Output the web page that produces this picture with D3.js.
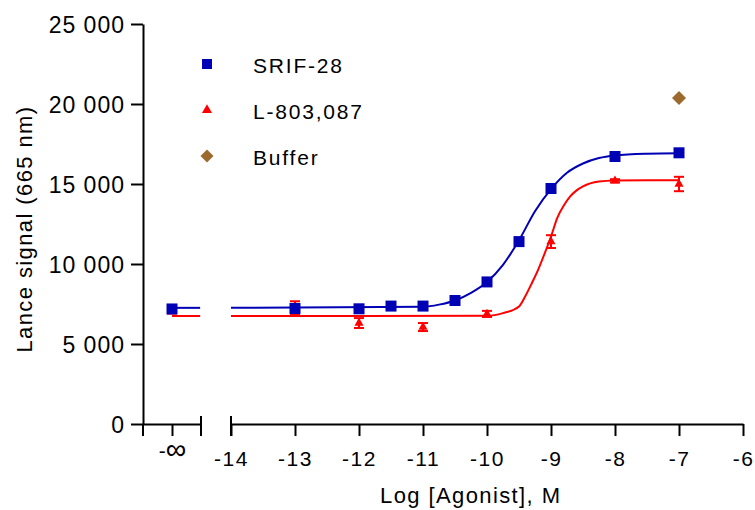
<!DOCTYPE html>
<html>
<head>
<meta charset="utf-8">
<script src="https://cdn.jsdelivr.net/npm/d3@7"></script>
<style>
	body { margin: 0; background: #fff; }
	svg text { font-family: "Liberation Sans", Arial, sans-serif; fill: #000; }
</style>
</head>
<body>
<svg id="chart" width="755" height="510"></svg>
<script>
// measured points
const srifDose = ["-∞", -13, -12, -11.5, -11, -10.5, -10, -9.5, -9, -8, -7];
const srifSignal = [7190, 7220, 7200, 7370, 7370, 7720, 8880, 11400, 14720, 16720, 16950];

const lDose = ["-∞", -13, -12, -11, -10, -9, -8, -7];
const lSignal = [7100, 7250, 6310, 6060, 6880, 11400, 15200, 15000];
const lSem = [200, 420, 310, 250, 190, 400, 100, 450];

const bufferDose = [-7];
const bufferSignal = [20380];

// fitted curves
const srifFitX = [-14, -11, -10.75, -10.5, -10.25, -10, -9.75, -9.5, -9.25, -9, -8.75, -8.5, -8.25, -8, -7.5, -7];
const srifFitY = [7260, 7330, 7460, 7720, 8200, 8880, 9950, 11480, 13300, 14680, 15700, 16280, 16620, 16780, 16890, 16920];
const lFitX = [-14, -10, -9.75, -9.5, -9.4, -9.3, -9.2, -9.1, -9.0, -8.9, -8.8, -8.7, -8.6, -8.5, -8.25, -8, -7.5, -7];
const lFitY = [6750, 6760, 6930, 7350, 8000, 8800, 9650, 10650, 11720, 12900, 13650, 14220, 14600, 14850, 15150, 15220, 15240, 15240];
// plateau carried across the axis break
const srifBreakY = [7260, 7260];
const lBreakY = [6750, 6750];

const yTicks = [0, 5000, 10000, 15000, 20000, 25000];
const xTicks = [-14, -13, -12, -11, -10, -9, -8, -7, -6];
const legendNames = ["SRIF-28", "L-803,087", "Buffer"];

const blue = "#0000b4", red = "#ff0000", brown = "#9c6a2c";

var svg = d3.select("#chart");

var y = d3.scaleLinear().domain([0, 25000]).range([424, 24]);
var xBreak = d3.scaleLinear().domain([-1, 1]).range([143, 201]);   // the "-∞" stub
var x = d3.scaleLinear().domain([-14, -6]).range([231, 743]);

function xPos(d) { return d === "-∞" ? xBreak(0) : x(d); }

// y axis
var gy = svg.append("g")
	.attr("transform", "translate(" + 143 + ",0)")
	.call(d3.axisLeft(y).tickValues(yTicks).tickSize(12).tickSizeOuter(0)
		.tickFormat(function(d){ return d3.format(",")(d).replace(",", " "); }));
gy.selectAll("text").attr("font-size", "23px").attr("letter-spacing", "1px").attr("x", -18).attr("dy", "0.36em");
gy.append("line").attr("x1", 0).attr("x2", 0).attr("y1", y(0)).attr("y2", y(0) + 12).attr("stroke", "#000");

// x axis: break stub
var gxb = svg.append("g")
	.attr("transform", "translate(0," + y(0) + ")")
	.call(d3.axisBottom(xBreak).tickValues([0]).tickSize(12).tickSizeOuter(0).tickFormat(""));
// x axis: main
var gx = svg.append("g")
	.attr("transform", "translate(0," + y(0) + ")")
	.call(d3.axisBottom(x).tickValues(xTicks).tickSize(12).tickSizeOuter(0).tickFormat(function(d){ return "-" + Math.abs(d); }));
gx.selectAll("text").attr("font-size", "21px").attr("letter-spacing", "1.5px").attr("y", 27);
// "-∞" label, infinity drawn large like the original
var infLabel = gxb.select(".tick").append("text")
	.attr("y", 27).attr("dy", "0.71em").attr("text-anchor", "middle").attr("fill", "#000");
infLabel.append("tspan").attr("font-size", "21px").text("-");
infLabel.append("tspan").attr("font-size", "29px").attr("dy", "1").text("∞");
// break caps
[xBreak(1), x(-14)].forEach(function(cx){
	gx.append("line").attr("x1", cx).attr("x2", cx).attr("y1", -8).attr("y2", 12).attr("stroke", "#000");
});
svg.selectAll(".domain, .tick line").attr("stroke", "#000").attr("stroke-width", 2);
svg.selectAll("g line").attr("stroke-width", 2);

// axis titles
svg.append("text")
	.attr("x", 380).attr("y", 503)
	.attr("font-size", "22px").attr("letter-spacing", "1.4px")
	.text("Log [Agonist], M");
svg.append("text")
	.attr("transform", "translate(32,229) rotate(-90)")
	.attr("text-anchor", "middle")
	.attr("font-size", "22px").attr("letter-spacing", "1.4px")
	.text("Lance signal (665 nm)");

// fitted curves
var line = d3.line().curve(d3.curveMonotoneX);
function drawFit(fx, fy, breakY, color) {
	svg.append("path")
		.attr("d", line(fx.map(function(d, i){ return [x(d), y(fy[i])]; })))
		.attr("fill", "none").attr("stroke", color).attr("stroke-width", 2);
	svg.append("path")
		.attr("d", line([[xBreak(0), y(breakY[0])], [xBreak(0.97), y(breakY[1])]]))
		.attr("fill", "none").attr("stroke", color).attr("stroke-width", 2);
}
drawFit(srifFitX, srifFitY, srifBreakY, blue);
drawFit(lFitX, lFitY, lBreakY, red);

var square = d3.symbol().type(d3.symbolSquare).size(121);
var triangle = d3.symbol().type(d3.symbolTriangle).size(36);
var diamond = d3.symbol().type(d3.symbolSquare).size(98);

// L-803,087 with error bars
var lData = lDose.map(function(d, i){ return {dose: d, v: lSignal[i], sem: lSem[i]}; });
var eb = svg.append("g").attr("stroke", red).attr("stroke-width", 2);
lData.forEach(function(d){
	var cx = xPos(d.dose);
	eb.append("line").attr("x1", cx).attr("x2", cx).attr("y1", y(d.v - d.sem)).attr("y2", y(d.v + d.sem));
	eb.append("line").attr("x1", cx - 5).attr("x2", cx + 5).attr("y1", y(d.v - d.sem)).attr("y2", y(d.v - d.sem));
	eb.append("line").attr("x1", cx - 5).attr("x2", cx + 5).attr("y1", y(d.v + d.sem)).attr("y2", y(d.v + d.sem));
});
svg.selectAll(".tri")
	.data(lData)
	.enter().append("path")
	.attr("class", "tri")
	.attr("d", triangle)
	.attr("fill", red)
	.attr("transform", function(d){ return "translate(" + xPos(d.dose) + "," + y(d.v) + ")"; });

// SRIF-28
svg.selectAll(".sq")
	.data(srifDose.map(function(d, i){ return {dose: d, v: srifSignal[i]}; }))
	.enter().append("path")
	.attr("class", "sq")
	.attr("d", square)
	.attr("fill", blue)
	.attr("transform", function(d){ return "translate(" + xPos(d.dose) + "," + y(d.v) + ")"; });

// Buffer
svg.selectAll(".dm")
	.data(bufferDose.map(function(d, i){ return {dose: d, v: bufferSignal[i]}; }))
	.enter().append("path")
	.attr("class", "dm")
	.attr("d", diamond)
	.attr("fill", brown)
	.attr("transform", function(d){ return "translate(" + xPos(d.dose) + "," + y(d.v) + ") rotate(45)"; });

// legend
var legendSym = [
	{shape: d3.symbol().type(d3.symbolSquare).size(100), color: blue, rot: 0},
	{shape: d3.symbol().type(d3.symbolTriangle).size(44), color: red, rot: 0},
	{shape: d3.symbol().type(d3.symbolSquare).size(84), color: brown, rot: 45}
];
legendNames.forEach(function(name, i){
	var ly = 64 + i * 46;
	svg.append("path")
		.attr("d", legendSym[i].shape)
		.attr("fill", legendSym[i].color)
		.attr("transform", "translate(207," + ly + ") rotate(" + legendSym[i].rot + ")");
	svg.append("text")
		.attr("x", 253).attr("y", ly + 9)
		.attr("font-size", "21px").attr("letter-spacing", "1.8px")
		.text(name);
});
</script>
</body>
</html>
